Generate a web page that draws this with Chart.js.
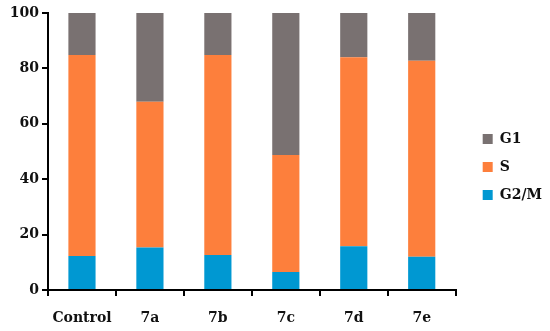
<!DOCTYPE html>
<html>
<head>
<meta charset="utf-8">
<script src="https://cdn.jsdelivr.net/npm/chart.js@4"></script>
<style>
  html, body { margin: 0; padding: 0; background: #fff; }
  #wrap { width: 550px; height: 331px; }
</style>
</head>
<body>
<div id="wrap"><canvas id="cellCycle"></canvas></div>
<script>
// categorías y porcentajes por fase
const categories = ['Control', '7a', '7b', '7c', '7d', '7e'];
const g2m = [12.3, 15.3, 12.6, 6.5, 15.8, 12.0];
const sPhase = [72.5, 52.7, 72.2, 42.2, 68.2, 70.8];
const g1 = [15.2, 32.0, 15.2, 51.3, 16.0, 17.2];
const yTicks = [0, 20, 40, 60, 80, 100];

const fuente = { family: '"DejaVu Serif", "Liberation Serif", serif', size: 14, weight: 'bold' };

// desplaza la leyenda a la derecha (como en la figura original)
const moverLeyenda = {
    id: 'moverLeyenda',
    afterLayout(chart) {
        const lg = chart.legend;
        if (!lg) return;
        lg.left += 13;
        lg.right += 13;
        lg.top -= 5;
        lg.bottom -= 5;
    }
};

const ctx = document.getElementById('cellCycle').getContext('2d');
new Chart(ctx, {
    type: 'bar',
    data: {
        labels: categories,
        datasets: [
            { label: 'G2/M', data: g2m, backgroundColor: '#0098D2' },
            { label: 'S', data: sPhase, backgroundColor: '#FD7F3C' },
            { label: 'G1', data: g1, backgroundColor: '#797171' }
        ]
    },
    plugins: [moverLeyenda],
    options: {
        responsive: true,
        maintainAspectRatio: false,
        animation: false,
        datasets: { bar: { barPercentage: 0.4, categoryPercentage: 1.0 } },
        layout: { padding: { top: 13, right: 11, left: 0, bottom: 0 } },
        plugins: {
            tooltip: { enabled: false },
            legend: {
                position: 'right',
                reverse: true,
                labels: {
                    boxWidth: 10,
                    boxHeight: 10,
                    padding: 14,
                    color: '#111',
                    font: fuente
                }
            }
        },
        scales: {
            x: {
                stacked: true,
                afterFit: (scale) => { scale.height = 41; },
                grid: { display: true, drawOnChartArea: false, drawTicks: true, tickLength: 6, color: '#000', lineWidth: 2 },
                border: { color: '#000', width: 2 },
                ticks: { color: '#111', font: fuente, padding: 14, maxRotation: 0, minRotation: 0, autoSkip: false }
            },
            y: {
                stacked: true,
                min: 0,
                max: 100,
                afterBuildTicks: (scale) => { scale.ticks = yTicks.map(v => ({ value: v })); },
                afterFit: (scale) => { scale.width = 48; },
                grid: { display: true, drawOnChartArea: false, drawTicks: true, tickLength: 6, color: '#000', lineWidth: 2 },
                border: { color: '#000', width: 2 },
                ticks: { color: '#111', font: fuente, padding: 3 }
            }
        }
    }
});
</script>
</body>
</html>
